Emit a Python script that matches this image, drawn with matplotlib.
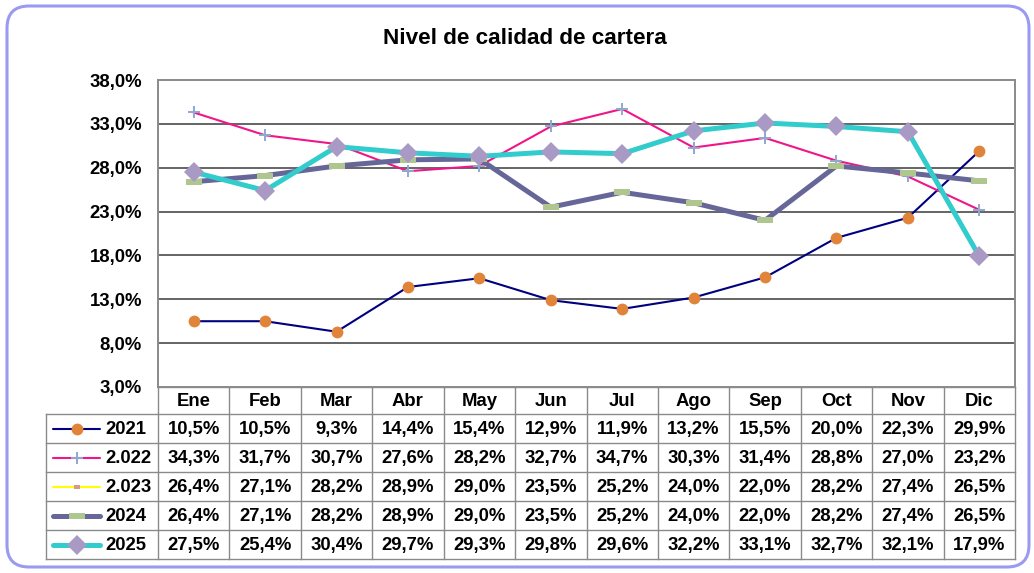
import numpy as np
import matplotlib
matplotlib.use("Agg")
import matplotlib.pyplot as plt
from matplotlib.patches import FancyBboxPatch

plt.rcParams['font.family'] = ['Liberation Sans', 'DejaVu Sans']

# ---------------- data ----------------
months = ["Ene", "Feb", "Mar", "Abr", "May", "Jun", "Jul", "Ago", "Sep", "Oct", "Nov", "Dic"]
series_names = ["2021", "2.022", "2.023", "2024", "2025"]
v2021 = [10.5, 10.5, 9.3, 14.4, 15.4, 12.9, 11.9, 13.2, 15.5, 20.0, 22.3, 29.9]
v2022 = [34.3, 31.7, 30.7, 27.6, 28.2, 32.7, 34.7, 30.3, 31.4, 28.8, 27.0, 23.2]
v2023 = [26.4, 27.1, 28.2, 28.9, 29.0, 23.5, 25.2, 24.0, 22.0, 28.2, 27.4, 26.5]
v2024 = [26.4, 27.1, 28.2, 28.9, 29.0, 23.5, 25.2, 24.0, 22.0, 28.2, 27.4, 26.5]
v2025 = [27.5, 25.4, 30.4, 29.7, 29.3, 29.8, 29.6, 32.2, 33.1, 32.7, 32.1, 17.9]
y_ticks = [3, 8, 13, 18, 23, 28, 33, 38]
title = "Nivel de calidad de cartera"

values = [v2021, v2022, v2023, v2024, v2025]

# ---------------- styles ----------------
dash_marker = [(-3, -1), (3, -1), (3, 1), (-3, 1), (-3, -1)]
styles = [
    dict(color='#000080', lw=1.5, marker='o', ms=8.5, mfc='#E0843A', mec='#E0843A', mew=0),
    dict(color='#F0168A', lw=1.5, marker='+', ms=8, mfc='#8FA8D0', mec='#8FA8D0', mew=1.4),
    dict(color='#FFFF00', lw=1.5, marker=[(-1.4, -1), (1.4, -1), (1.4, 1), (-1.4, 1), (-1.4, -1)],
         ms=5, mfc='#D4998A', mec='#D4998A', mew=0),
    dict(color='#666699', lw=3.6, marker=dash_marker, ms=12, mfc='#AFC68E', mec='#AFC68E', mew=0),
    dict(color='#33CCCC', lw=3.6, marker='D', ms=10, mfc='#A89AC4', mec='#A89AC4', mew=0),
]

FS = 13.3

W, H = 1034, 573
fig = plt.figure(figsize=(W / 100, H / 100), dpi=100)

# pixel layout
PL, PR, PT, PB = 158, 1015, 80, 387
TL = 46
row_h = 29.0
hdr_bottom = 414

# overlay axes in pixel coordinates
ov = fig.add_axes([0, 0, 1, 1])
ov.set_xlim(0, W)
ov.set_ylim(H, 0)
ov.axis('off')

# outer rounded border
box = FancyBboxPatch((7, 6), 1022, 561, boxstyle="round,pad=0,rounding_size=22",
                     fc='white', ec='#9A9AF2', lw=2.2, zorder=0)
ov.add_patch(box)

ov.text(525, 39, title, ha='center', va='center', fontsize=16.2,
        fontweight='bold', color='black')

# main plot axes
ax = fig.add_axes([PL / W, (H - PB) / H, (PR - PL) / W, (PB - PT) / H])
ax.set_facecolor('white')
ax.set_xlim(-0.5, len(months) - 0.5)
ax.set_ylim(y_ticks[0], y_ticks[-1])
ax.set_yticks(y_ticks)
ax.set_yticklabels([f"{t:.1f}%".replace('.', ',') for t in y_ticks],
                   fontsize=FS, fontweight='bold')
ax.tick_params(axis='y', length=0, pad=11.5)
ax.set_xticks([])
for s in ax.spines.values():
    s.set_color('#8A8A8A')
    s.set_linewidth(1.4)
for t in y_ticks[1:-1]:
    ax.axhline(t, color='#3A3A3A', lw=1.1, zorder=1)

x = np.arange(len(months))
for vals, st in zip(values, styles):
    ax.plot(x, vals, zorder=3, solid_joinstyle='round', **st)

# ---------------- data table ----------------
cw = (PR - PL) / len(months)
gc = '#8A8A8A'
glw = 1.0
n = len(series_names)
tb = hdr_bottom + n * row_h

# horizontal lines
ov.plot([PL, PR], [PB, PB], color=gc, lw=glw, zorder=2)
for r in range(n + 1):
    yy = hdr_bottom + r * row_h
    ov.plot([TL, PR], [yy, yy], color=gc, lw=glw, zorder=2)
# vertical lines
ov.plot([TL, TL], [hdr_bottom, tb], color=gc, lw=glw, zorder=2)
for c in range(len(months) + 1):
    xx = PL + c * cw
    ov.plot([xx, xx], [PB, tb], color=gc, lw=glw, zorder=2)

# header labels
for i, m in enumerate(months):
    ov.text(PL + (i + 0.5) * cw, (PB + hdr_bottom) / 2 + 1, m, ha='center', va='center',
            fontsize=FS, fontweight='bold', color='black')

# rows
for r, (name, vals, st) in enumerate(zip(series_names, values, styles)):
    yc = hdr_bottom + (r + 0.5) * row_h
    ov.plot([53, 100], [yc, yc], color=st['color'], lw=st['lw'], solid_capstyle='round',
            zorder=3)
    ov.plot([76.5], [yc], linestyle='none', marker=st['marker'], ms=st['ms'],
            mfc=st['mfc'], mec=st['mec'], mew=st['mew'], zorder=4)
    ov.text(105, yc + 1, name, ha='left', va='center', fontsize=FS,
            fontweight='bold', color='black')
    for i, v in enumerate(vals):
        ov.text(PL + (i + 0.5) * cw, yc + 1, f"{v:.1f}%".replace('.', ','),
                ha='center', va='center', fontsize=FS, fontweight='bold', color='black')

fig.savefig('out.png', dpi=100)
